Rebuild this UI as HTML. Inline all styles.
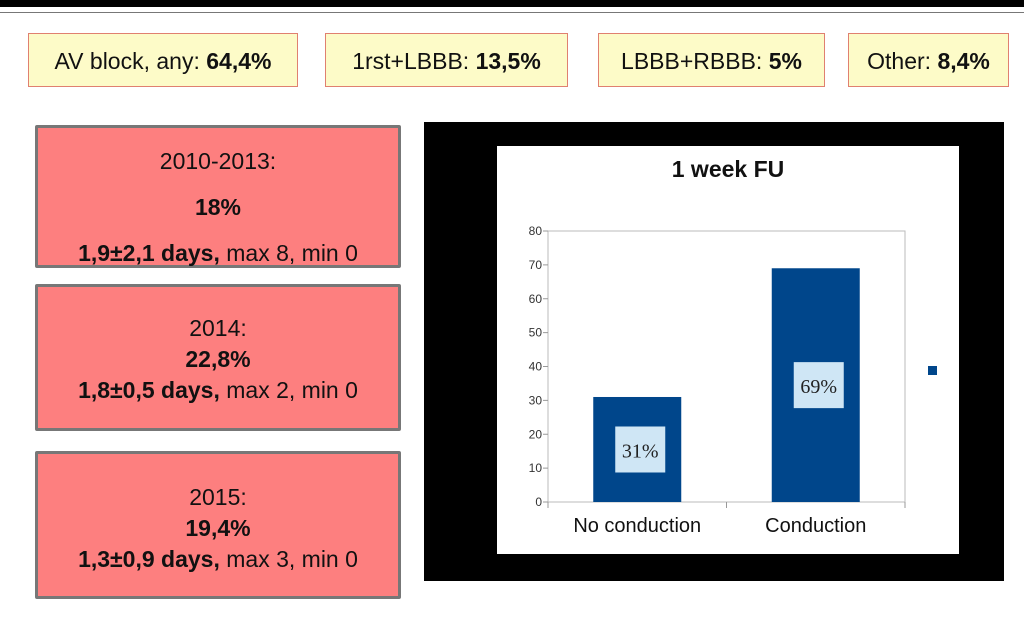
<!DOCTYPE html>
<html><head><meta charset="utf-8"><style>
body{margin:0;width:1024px;height:617px;background:#fff;position:relative;overflow:hidden;font-family:"Liberation Sans",sans-serif;color:#111}
.abs{position:absolute}
.tb{position:absolute;top:33px;height:54px;background:#fdfbc8;border:1px solid #e08070;box-sizing:border-box;font-size:23px;line-height:54px;text-align:center}
.rb{position:absolute;left:35px;width:366px;background:#fd7f7f;border:3px solid #777;box-sizing:border-box;font-size:23px;text-align:center;border-radius:2px}
</style></head><body>
<div class="abs" style="left:0;top:0;width:1024px;height:7px;background:#000"></div>
<div class="abs" style="left:0;top:12px;width:1024px;height:1px;background:#777"></div>
<div class="tb" style="left:28px;width:270px">AV block, any: <b>64,4%</b></div>
<div class="tb" style="left:325px;width:243px">1rst+LBBB: <b>13,5%</b></div>
<div class="tb" style="left:598px;width:227px">LBBB+RBBB: <b>5%</b></div>
<div class="tb" style="left:848px;width:161px">Other: <b>8,4%</b></div>
<div class="rb" style="top:125px;height:143px;line-height:46px;padding-top:10px">2010-2013:<br><b>18%</b><br><b>1,9±2,1 days,</b> max 8, min 0</div>
<div class="rb" style="top:284px;height:147px;line-height:31px;padding-top:26px">2014:<br><b>22,8%</b><br><b>1,8±0,5 days,</b> max 2, min 0</div>
<div class="rb" style="top:451px;height:148px;line-height:31px;padding-top:28px">2015:<br><b>19,4%</b><br><b>1,3±0,9 days,</b> max 3, min 0</div>
<div class="abs" style="left:424px;top:122px;width:580px;height:459px;background:#000"></div>
<svg class="abs" style="left:0;top:0" width="1024" height="617">
<rect x="497" y="146" width="462" height="408" fill="#fff"/>
<text x="728" y="177" text-anchor="middle" font-family="Liberation Sans" font-weight="bold" font-size="23" fill="#111">1 week FU</text>
<g id="plot"></g>
</svg>
<script>
const categories=["No conduction","Conduction"];
const values=[31,69];
const labels=["31%","69%"];
const ticks=[0,10,20,30,40,50,60,70,80];
const L=548,R=905,T=231,B=502,MAX=80;
const y=v=>B-(v/MAX)*(B-T);
const bw=(R-L)/categories.length;
const xc=i=>L+bw*(i+0.5);
const g=document.getElementById('plot');
const NS="http://www.w3.org/2000/svg";
function mk(t,a){const e=document.createElementNS(NS,t);for(const k in a)e.setAttribute(k,a[k]);g.appendChild(e);return e;}
let fr=mk('rect',{x:L,y:T,width:R-L,height:B-T,fill:'none',stroke:'#bbb'});


ticks.forEach(t=>{
 const l=mk('line',{x1:L-5,x2:L,y1:y(t),y2:y(t),stroke:'#999'});
 
 
 const tx=mk('text',{x:L-6,y:y(t)+4,'text-anchor':'end','font-size':12,'font-family':'Liberation Sans',fill:'#333'});
 tx.textContent=t;
 
 
});
for(let i=0;i<=categories.length;i++){const l=mk('line',{x1:L+bw*i,x2:L+bw*i,y1:B,y2:B+6,stroke:'#999'});
 
 }
categories.forEach((c,i)=>{
 const w=88,x=xc(i)-w/2;
 const b=mk('rect',{x:x,y:y(values[i]),width:w,height:B-y(values[i]),fill:'#00468b'});
 
 
 const ly=(y(values[i])+B)/2;
 const lb=mk('rect',{x:xc(i)-22,y:ly-23,width:50,height:46,fill:'#cfe6f5'});
 
 
 const lt=mk('text',{x:xc(i)+3,y:ly+8,'text-anchor':'middle','font-size':20,'font-family':'Liberation Serif',fill:'#222'});
 lt.textContent=labels[i];
 
 
 const ct=mk('text',{x:xc(i),y:B+30,'text-anchor':'middle','font-size':20,'font-family':'Liberation Sans',fill:'#111'});
 ct.textContent=c;
 
 
});
const lg=mk('rect',{x:928,y:366,width:9,height:9,fill:'#00468b'});


</script>
</body></html>
